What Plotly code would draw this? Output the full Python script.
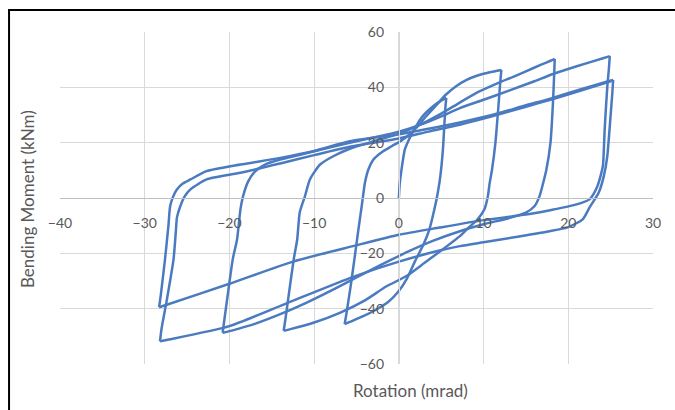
import plotly.graph_objects as go

# ---- data: hysteresis path, branch by branch (rotation mrad, moment kNm) ----
rot_01 = [0, 0.1, 0.3, 0.7, 1.1, 1.5, 2.0, 2.5, 3.0, 3.6, 4.3, 5.0, 5.6]
mom_01 = [0, 5, 10, 17.5, 20.5, 23, 25.8, 28.3, 30.2, 32, 33.8, 35.2, 36.2]

rot_02 = [5.6, 5.5, 5.4, 5.2, 4.9, 4.6, 4.2, 3.6, 2.9, 1.9, 0.9, -0.1, -1.3, -2.6, -4.2, -5.8, -6.4]
mom_02 = [36.2, 33, 28, 17.5, 8, 2, -4, -11.4, -16.8, -22.9, -29.4, -34, -37.7, -40.2, -42.7, -44.8, -45.6]

rot_03 = [-6.4, -6.2, -5.6, -4.8, -4.3, -4.0, -3.6, -3.0, -1.9, -0.8, 0, 1.0, 2.1, 3.2, 4.4, 5.6, 6.8, 8.0, 9.2, 10.4, 11.6, 12.1]
mom_03 = [-45.6, -42, -30, -12, -1, 5.6, 10.3, 13.9, 16.8, 18.8, 20.2, 22.3, 25.5, 29.5, 33.5, 37.5, 40.5, 42.7, 44.2, 45.2, 46.0, 46.3]

rot_04 = [12.1, 12.0, 11.8, 11.4, 11.0, 10.7, 10.5, 10.1, 9.3, 8.0, 7.2, 5.0, 3.0, 0.9, -1.5, -4.0, -6.9, -10.0, -12.8, -13.6]
mom_04 = [46.3, 43, 35, 20, 10.3, 5, 0.5, -4.1, -7.7, -11.4, -13.8, -19, -23.5, -28.2, -32, -37, -41.4, -45, -47.4, -48]

rot_05 = [-13.6, -13.4, -13.0, -12.4, -12.0, -11.7, -11.1, -10.5, -9.3, -7.8, -5.8, -3.0, 0, 2.5, 5.0, 7.2, 9.5, 11.9, 13.5, 15.0, 16.8, 17.9, 18.4]
mom_05 = [-48, -44, -35, -22, -15, -5.2, 0.5, 6.7, 12.1, 15, 17.8, 20.5, 23.2, 26.5, 30.5, 34.5, 38.5, 41.8, 43.8, 45.8, 48.2, 49.6, 50.3]

rot_06 = [18.4, 18.35, 18.2, 17.9, 17.4, 17.0, 16.6, 16.0, 15.0, 13.1, 10.0, 7.2, 4.0, 1.0, -2.0, -5.0, -8.0, -11.0, -14.0, -17.0, -19.0, -20.2, -20.8]
mom_06 = [50.3, 46, 35, 20, 10, 5, 0.6, -3, -5.3, -7.2, -9.5, -12, -15.5, -19.5, -24, -28.7, -33.5, -38, -42, -45.5, -47.3, -48.3, -48.7]

rot_07 = [-20.8, -20.6, -20.2, -19.6, -19.1, -18.7, -18.4, -17.8, -17.0, -15.8, -14.0, -10.1, -5.8, -2.0, 0, 3.0, 5.0, 7.2, 10.0, 13.0, 16.0, 18.2, 21.0, 24.3, 24.9]
mom_07 = [-48.7, -44, -35, -22, -15, -4.1, 0.5, 5.9, 9.5, 12.1, 13.9, 16.8, 20, 22.5, 24, 27, 29.5, 32.5, 35.5, 38.8, 42.2, 44.8, 47.6, 50.7, 51.3]

rot_08 = [24.9, 24.8, 24.6, 24.3, 24.1, 23.9, 23.4, 22.5, 21.0, 18.0, 15.0, 10.0, 4.8, 0, -5.4, -12.5, -20.0, -27.4, -28.3]
mom_08 = [51.3, 47, 40, 25, 12, 9, 4, -0.5, -2.3, -4.3, -6, -8, -10.7, -13.3, -17.4, -23, -31, -38.6, -39.5]

rot_09 = [-28.3, -28.1, -27.6, -27.2, -27.0, -26.6, -26.2, -25.5, -24.6, -22.7, -18.7, -14.0, -10.0, -5.8, 0, 3.5, 7.2, 11.0, 15.0, 18.0, 21.5, 24.7, 25.3]
mom_09 = [-39.5, -35, -22, -10, -3, 0.8, 3.1, 5.2, 6.7, 9.7, 12.1, 14.5, 17, 20.5, 23, 25, 27.3, 30, 33.5, 36, 39.3, 42.2, 42.7]

rot_10 = [25.3, 25.2, 25.0, 24.6, 24.2, 23.6, 22.5, 21.7, 20.0, 17.8, 14.0, 10.0, 7.2, 4.8, 0, -5.4, -13.2, -20.0, -27.4, -28.2]
mom_10 = [42.7, 38, 30, 15, 8, 2, -3.5, -7.7, -10.5, -12, -14, -16, -17.4, -19, -23, -28.5, -38, -46.3, -51.3, -51.8]

rot_11 = [-28.2, -28.0, -27.4, -26.6, -26.3, -26.2, -25.8, -25.3, -24.6, -22.7, -18.7, -14.0, -10.0, -5.8, 0, 3.5, 7.2, 11.0, 15.0, 18.0, 21.5, 25.1]
mom_11 = [-51.8, -47, -37, -22.2, -11, -7.1, -3, 0.5, 3.1, 6.7, 9.1, 12.5, 15.5, 18.5, 21.5, 24, 26.5, 29.5, 33, 35.6, 38.8, 42.3]

x_ticks = [-40, -30, -20, -10, 0, 10, 20, 30]
y_ticks = [-60, -40, -20, 0, 20, 40, 60]
x_title = "Rotation (mrad)"
y_title = "Bending Moment (kNm)"

branches_x = [rot_01, rot_02, rot_03, rot_04, rot_05, rot_06, rot_07, rot_08, rot_09, rot_10, rot_11]
branches_y = [mom_01, mom_02, mom_03, mom_04, mom_05, mom_06, mom_07, mom_08, mom_09, mom_10, mom_11]

FONT = "Lato, 'Open Sans', sans-serif"
GREY = "#595959"
BLUE = "#4A7BC0"

fig = go.Figure()
for bx, by in zip(branches_x, branches_y):
    fig.add_trace(go.Scatter(x=bx, y=by, mode="lines",
                             line=dict(color=BLUE, width=2.5, shape="spline", smoothing=0.6),
                             hoverinfo="skip"))

x0, x1 = x_ticks[0], x_ticks[-1]
y0, y1 = y_ticks[0], y_ticks[-1]

# page body margin is removed below, so figure pixels == page pixels
L, T, PW, PH = 60, 32, 593.5, 332
FW, FH = 675, 410

def px(xp):
    return (xp - L) / PW

def py(yp):
    return (T + PH - yp) / PH

fig.update_layout(
    width=FW, height=FH,
    margin=dict(l=L, r=FW - L - PW, t=T, b=FH - T - PH, pad=0),
    paper_bgcolor="white", plot_bgcolor="white",
    showlegend=False,
    font=dict(family=FONT, color=GREY, size=14),
    xaxis=dict(range=[x0, x1], tickvals=x_ticks, showgrid=True, gridcolor="#d9d9d9",
               gridwidth=1, zeroline=False, showline=True, linecolor="#bfbfbf", linewidth=1,
               anchor="free", position=(0 - y0) / (y1 - y0), ticks="",
               ticklabelstandoff=12, tickfont=dict(size=14, color=GREY, family=FONT)),
    yaxis=dict(range=[y0, y1], tickvals=y_ticks, showgrid=True, gridcolor="#d9d9d9",
               gridwidth=1, zeroline=False, showline=True, linecolor="#d9d9d9", linewidth=1,
               anchor="free", position=(0 - x0) / (x1 - x0), ticks="",
               ticklabelstandoff=12, tickfont=dict(size=14, color=GREY, family=FONT)),
    annotations=[
        dict(text=x_title, xref="paper", yref="paper", x=px(411), y=py(391),
             showarrow=False, xanchor="center", yanchor="middle",
             font=dict(size=17, color=GREY, family=FONT)),
        dict(text=y_title, xref="paper", yref="paper", x=px(27), y=py(199),
             showarrow=False, xanchor="center", yanchor="middle", textangle=-90,
             font=dict(size=17, color=GREY, family=FONT)),
    ],
    shapes=[
        dict(type="line", xref="paper", yref="paper", x0=px(9), x1=px(9), y0=py(10), y1=py(420),
             line=dict(color="black", width=2), layer="above"),
        dict(type="line", xref="paper", yref="paper", x0=px(8), x1=px(690), y0=py(10), y1=py(10),
             line=dict(color="black", width=2), layer="above"),
    ],
)

fig.write_html(
    "out.html",
    config={"displayModeBar": False, "staticPlot": True},
    post_script="document.documentElement.style.overflow='hidden';"
                "document.body.style.margin='0';document.body.style.overflow='hidden';",
)
